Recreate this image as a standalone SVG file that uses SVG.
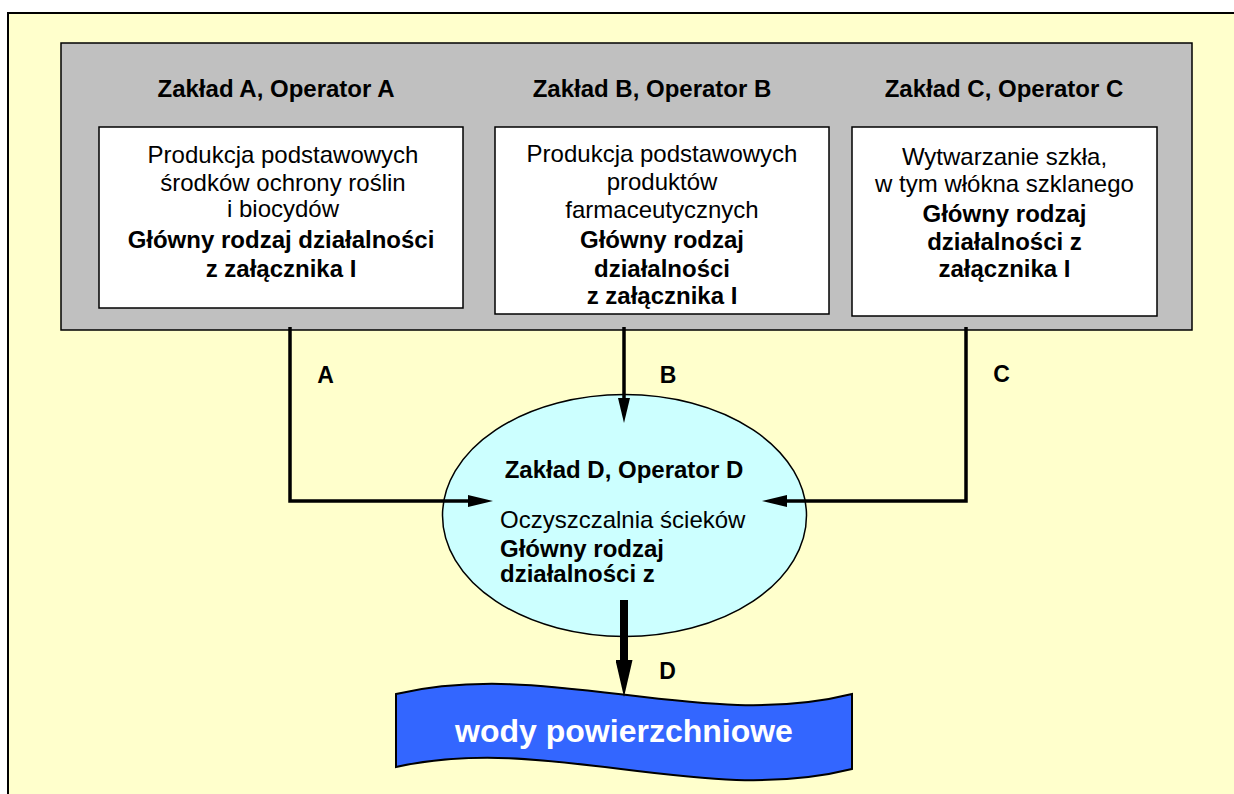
<svg xmlns="http://www.w3.org/2000/svg" width="1234" height="794" viewBox="0 0 1234 794">
<style>
text{font-family:"Liberation Sans",Arial,sans-serif;font-size:24px;fill:#000}
.b{font-weight:bold}
.c{text-anchor:middle}
.lbl{font-weight:bold;font-size:23px;text-anchor:middle}
.box{fill:#fff;stroke:#000;stroke-width:1.5}
.con{fill:none;stroke:#000;stroke-width:3.5}
</style>
<defs>
<marker id="ah" markerUnits="userSpaceOnUse" markerWidth="25" markerHeight="12" refX="15" refY="6" orient="auto">
<path d="M0,0 L25,6 L0,12 z" fill="#000"/>
</marker>
<marker id="ahD" markerUnits="userSpaceOnUse" markerWidth="38" markerHeight="17" refX="5" refY="8.5" orient="auto">
<path d="M0,0 L37,8.5 L0,17 z" fill="#000"/>
</marker>
</defs>
<rect width="1234" height="794" fill="#fff"/>
<rect id="frame" x="8" y="13" width="1240" height="800" fill="#FFFFCC" stroke="#000" stroke-width="2"/>
<g id="panel">
<rect x="61" y="43" width="1131" height="287" fill="#C0C0C0" stroke="#000" stroke-width="1.5"/>
<text class="b c" x="276" y="97">Zakład A, Operator A</text>
<text class="b c" x="652" y="97">Zakład B, Operator B</text>
<text class="b c" x="1004" y="97">Zakład C, Operator C</text>
</g>
<g id="boxA">
<rect class="box" x="99" y="127" width="364" height="181"/>
<text class="c" x="283" y="163">Produkcja podstawowych</text>
<text class="c" x="283" y="191">środków ochrony roślin</text>
<text class="c" x="283" y="217">i biocydów</text>
<text class="b c" x="281" y="248">Główny rodzaj działalności</text>
<text class="b c" x="281" y="277">z załącznika I</text>
</g>
<g id="boxB">
<rect class="box" x="495" y="127" width="334" height="187"/>
<text class="c" x="662" y="162">Produkcja podstawowych</text>
<text class="c" x="662" y="190">produktów</text>
<text class="c" x="662" y="218">farmaceutycznych</text>
<text class="b c" x="662" y="248">Główny rodzaj</text>
<text class="b c" x="662" y="277">działalności</text>
<text class="b c" x="662" y="304">z załącznika I</text>
</g>
<g id="boxC">
<rect class="box" x="852" y="127" width="305" height="189"/>
<text class="c" x="1004.5" y="165">Wytwarzanie szkła,</text>
<text class="c" x="1004.5" y="192">w tym włókna szklanego</text>
<text class="b c" x="1004.5" y="222">Główny rodzaj</text>
<text class="b c" x="1004.5" y="250">działalności z</text>
<text class="b c" x="1004.5" y="277">załącznika I</text>
</g>
<g id="nodeD">
<ellipse cx="624.5" cy="515.5" rx="182" ry="121" fill="#CCFFFF" stroke="#000" stroke-width="1.5"/>
<text class="b c" x="624" y="478">Zakład D, Operator D</text>
<text x="500" y="528">Oczyszczalnia ścieków</text>
<text class="b" x="500" y="557">Główny rodzaj</text>
<text class="b" x="500" y="582">działalności z</text>
</g>
<g id="water">
<path d="M396,694 C550,658 700,732 852,694 L852,769 C700,807 550,733 396,767 Z" fill="#3366FF" stroke="#000" stroke-width="2"/>
<text class="b c" x="624" y="742" style="fill:#fff;font-size:32px">wody powierzchniowe</text>
</g>
<g id="connectors">
<path class="con" d="M290,327 V501 H483" marker-end="url(#ah)"/>
<path class="con" d="M624,327 V413" marker-end="url(#ah)"/>
<path class="con" d="M966,327 V501 H772" marker-end="url(#ah)"/>
<path d="M624,600 V665" fill="none" stroke="#000" stroke-width="8" marker-end="url(#ahD)"/>
<text class="lbl" x="325.5" y="383">A</text>
<text class="lbl" x="668" y="383">B</text>
<text class="lbl" x="1001.5" y="382">C</text>
<text class="lbl" x="667.5" y="679">D</text>
</g>
</svg>
